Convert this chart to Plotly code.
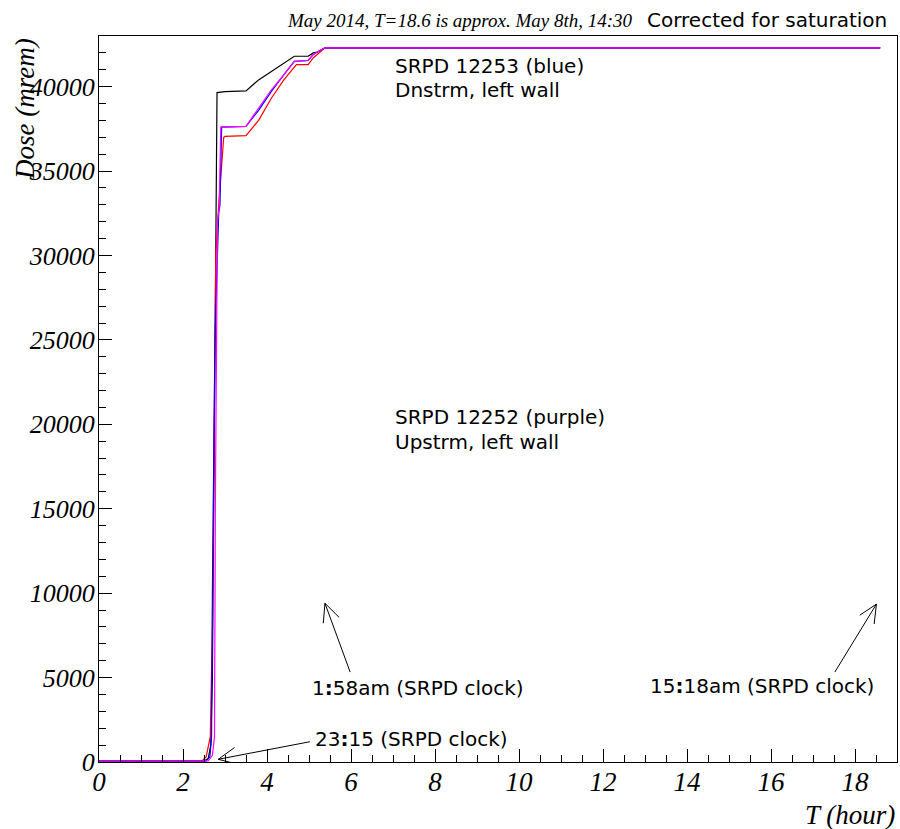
import math
import plotly.graph_objects as go

# ---------------- data ----------------
black_t = [0, 2.5, 2.6, 2.66, 2.7, 2.78, 2.81, 3.0, 3.5, 3.8, 4.1, 4.4, 4.65, 4.98, 5.1, 5.2, 5.38, 18.6]
black_d = [60, 60, 200, 1000, 5000, 30000, 39650, 39700, 39750, 40400, 40900, 41400, 41800, 41800, 42000, 42050, 42300, 42300]

red_t = [0, 2.45, 2.55, 2.65, 2.7, 2.78, 2.85, 2.97, 3.0, 3.5, 3.8, 4.1, 4.4, 4.7, 4.98, 5.1, 5.38, 18.6]
red_d = [60, 60, 300, 1500, 8000, 30000, 33000, 37000, 37050, 37100, 38000, 39300, 40400, 41300, 41300, 41700, 42300, 42300]

blue_t = [0, 2.55, 2.64, 2.68, 2.7, 2.76, 2.85, 2.88, 2.92, 3.5, 3.8, 4.1, 4.4, 4.65, 4.98, 5.1, 5.38, 18.6]
blue_d = [60, 60, 300, 1500, 10000, 25000, 32500, 33000, 37600, 37650, 38600, 39700, 40700, 41500, 41550, 41900, 42300, 42300]

mag_t = [0, 2.6, 2.7, 2.75, 2.77, 2.82, 2.86, 2.9, 3.5, 3.8, 4.1, 4.4, 4.65, 4.98, 5.1, 5.38, 18.6]
mag_d = [60, 60, 400, 1500, 15000, 32000, 32800, 37600, 37650, 38700, 39800, 40700, 41500, 41550, 41900, 42300, 42300]

x_ticks = [0, 2, 4, 6, 8, 10, 12, 14, 16, 18]
y_ticks = [0, 5000, 10000, 15000, 20000, 25000, 30000, 35000, 40000]

# arrows: (tail_x, tail_y, head_x, head_y)
arrows = [
    (5.98, 5325, 5.38, 9400),
    (17.52, 5325, 18.51, 9350),
    (5.02, 1200, 2.84, 160),
]

labels = [
    (7.0, 41240, "SRPD 12253 (blue)"),
    (7.0, 39820, "Dnstrm, left wall"),
    (7.0, 20410, "SRPD 12252 (purple)"),
    (7.0, 18930, "Upstrm, left wall"),
    (5.02, 4380, "1<b>:</b>58am (SRPD clock)"),
    (13.07, 4500, "15<b>:</b>18am (SRPD clock)"),
    (5.1, 1360, "23<b>:</b>15 (SRPD clock)"),
]

XMAX, YMAX = 19.0, 43000
W, H = 900, 829
ML, MR, MT, MB = 99, 3, 36, 67

serif_it = dict(family="Liberation Serif", style="italic", color="black")
sans = dict(family="DejaVu Sans", color="black")

fig = go.Figure()
for t, d, c in [(black_t, black_d, "black"), (red_t, red_d, "red"),
                (blue_t, blue_d, "blue"), (mag_t, mag_d, "magenta")]:
    fig.add_trace(go.Scatter(x=t, y=d, mode="lines", line=dict(color=c, width=1.2),
                             showlegend=False, hoverinfo="skip"))

# arrows with open V heads
pxx = (W - ML - MR) / XMAX
pxy = (H - MT - MB) / YMAX
head_len, half_ang = 20, math.radians(25)
for tx, ty, hx, hy in arrows:
    dxp = (tx - hx) * pxx
    dyp = (ty - hy) * pxy
    ang = math.atan2(dyp, dxp)
    fig.add_shape(type="line", x0=tx, y0=ty, x1=hx, y1=hy,
                  line=dict(color="black", width=1), xref="x", yref="y")
    for s in (1, -1):
        a = ang + s * half_ang
        ex = hx + head_len * math.cos(a) / pxx
        ey = hy + head_len * math.sin(a) / pxy
        fig.add_shape(type="line", x0=hx, y0=hy, x1=ex, y1=ey,
                      line=dict(color="black", width=1), xref="x", yref="y")

for x, y, txt in labels:
    fig.add_annotation(x=x, y=y, text=txt, showarrow=False, xanchor="left", yanchor="middle",
                       font=dict(size=20, **sans))

# titles
fig.add_annotation(xref="paper", yref="paper", x=0.6717, y=1.0, yshift=16, text="May 2014, T=18.6 is approx. May 8th, 14:30",
                   showarrow=False, xanchor="right", yanchor="middle", font=dict(size=19, **serif_it))
fig.add_annotation(xref="paper", yref="paper", x=0.684, y=1.0, yshift=16, text="Corrected for saturation",
                   showarrow=False, xanchor="left", yanchor="middle", font=dict(size=20, **sans))
fig.add_annotation(xref="paper", yref="paper", x=1.0, y=0, yshift=-53, text="T (hour)",
                   showarrow=False, xanchor="right", yanchor="middle", font=dict(size=27, **serif_it))
fig.add_annotation(xref="paper", yref="paper", x=0, xshift=-74, y=1.0, text="Dose (mrem)", textangle=-90,
                   showarrow=False, xanchor="center", yanchor="top", font=dict(size=27, **serif_it))

fig.update_xaxes(range=[0, XMAX], tickvals=x_ticks, ticktext=[str(v) for v in x_ticks],
                 ticks="inside", ticklen=13, tickwidth=1, tickcolor="black", ticklabelstandoff=-4,
                 minor=dict(dtick=0.5, ticks="inside", ticklen=7, tickcolor="black", tick0=0),
                 showgrid=False, zeroline=False, showline=True, linecolor="black", linewidth=1, mirror=True,
                 tickfont=dict(size=27, **serif_it))
fig.update_yaxes(range=[0, YMAX], tickvals=y_ticks, ticktext=[str(v) for v in y_ticks],
                 ticks="inside", ticklen=13, tickwidth=1, tickcolor="black", ticklabelstandoff=-2,
                 minor=dict(dtick=1000, ticks="inside", ticklen=7, tickcolor="black", tick0=0),
                 showgrid=False, zeroline=False, showline=True, linecolor="black", linewidth=1, mirror=True,
                 tickfont=dict(size=26, **serif_it))
fig.update_layout(width=W, height=H, margin=dict(l=ML, r=MR, t=MT, b=MB, autoexpand=False),
                  plot_bgcolor="white", paper_bgcolor="white")
fig.write_html("out.html", config={"displayModeBar": False},
               post_script="document.body.style.margin='0';document.body.style.overflow='hidden';")
